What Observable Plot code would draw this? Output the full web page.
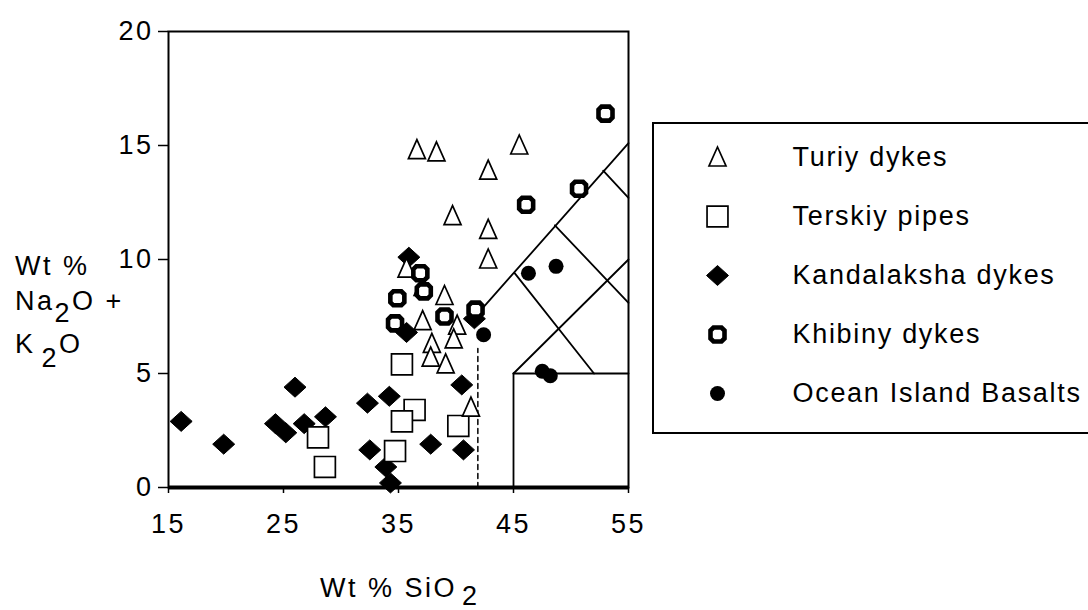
<!DOCTYPE html>
<html><head><meta charset="utf-8">
<script src="https://cdn.jsdelivr.net/npm/d3@7"></script>
<script src="https://cdn.jsdelivr.net/npm/@observablehq/plot@0.6"></script>
<style>
html,body{margin:0;padding:0;background:#fff;overflow:hidden;width:1088px;height:610px;}
#wrap{position:relative;width:1088px;height:610px;font-family:"Liberation Sans",Arial,sans-serif;color:#000;}
#chart{position:absolute;left:0;top:0;}
#legend{position:absolute;left:652px;top:122px;width:460px;height:312px;border:2px solid #000;box-sizing:border-box;background:#fff;}
#legend svg{position:absolute;left:0;top:0;background:transparent !important;}
#labels{position:absolute;left:0;top:0;pointer-events:none;}
</style>
</head><body>
<div id="wrap"><div id="chart"></div><div id="legend"></div><svg id="labels" width="1088" height="610"></svg></div>
<script>
// ---- data (Wt % SiO2, Wt % Na2O + K2O) ----
const seriesNames = ["Turiy dykes", "Terskiy pipes", "Kandalaksha dykes", "Khibiny dykes", "Ocean Island Basalts"];
const turiy = [[36.6,14.8],[38.3,14.7],[45.5,15.0],[42.8,13.9],[39.7,11.9],[42.8,11.3],[42.8,10.0],
  [35.7,9.6],[37.1,8.8],[39.0,8.4],[37.1,7.3],[40.1,7.1],[39.8,6.5],[37.9,6.3],[37.8,5.7],[39.1,5.4],[41.3,3.5]];
const terskiy = [[35.3,5.4],[36.4,3.4],[35.3,2.9],[34.7,1.6],[40.2,2.7],[28.0,2.2],[28.6,0.9]];
const kandalaksha = [[16.1,2.9],[19.8,1.9],[26.0,4.4],[24.3,2.8],[25.2,2.4],[26.8,2.8],[28.65,3.1],[32.3,3.7],
  [34.2,4.0],[32.5,1.65],[33.9,0.9],[34.3,0.2],[37.8,1.9],[40.65,1.65],[40.5,4.5],[35.9,10.1],[35.7,6.8],[41.6,7.4]];
const khibiny = [[53.0,16.4],[50.7,13.1],[46.1,12.4],[41.7,7.8],[34.9,8.3],[34.7,7.2],[36.9,9.4],[37.2,8.6],[39.0,7.5]];
const oib = [[46.3,9.4],[48.7,9.7],[47.5,5.1],[48.2,4.9],[42.4,6.7]];
const xTicks = [15, 25, 35, 45, 55];
const yTicks = [0, 5, 10, 15, 20];
// classification field boundaries (SiO2, alkali)
const boundaries = [
  [[42.2,7.8],[55,15.1]],
  [[45,0],[45,5]],
  [[45,5],[55,5]],
  [[45,5],[55,10]],
  [[45.1,9.4],[52,5]],
  [[48.6,11.5],[55,8.1]],
  [[52.8,13.9],[55,12.7]]
];
const dashedBoundary = [[41.9,0],[41.9,6.1]];

// ---- symbols & styles ----
const triUp = {draw(ctx, size){const k=Math.sqrt(size/Math.PI)/8; ctx.moveTo(0,-10.5*k); ctx.lineTo(8.5*k,8.5*k); ctx.lineTo(-8.5*k,8.5*k); ctx.closePath();}};
const diamond = {draw(ctx, size){const k=Math.sqrt(size/Math.PI)/8; ctx.moveTo(0,-10*k); ctx.lineTo(11*k,0); ctx.lineTo(0,10*k); ctx.lineTo(-11*k,0); ctx.closePath();}};
const octagon = {draw(ctx, size){const k=Math.sqrt(size/Math.PI)/8; const a=7*k, c=3*k;
  ctx.moveTo(-a+c,-a); ctx.lineTo(a-c,-a); ctx.lineTo(a,-a+c); ctx.lineTo(a,a-c); ctx.lineTo(a-c,a);
  ctx.lineTo(-a+c,a); ctx.lineTo(-a,a-c); ctx.lineTo(-a,-a+c); ctx.closePath();}};
const styles = {
  "Turiy dykes": {symbol: triUp, r: 8, fill: "white", stroke: "black", strokeWidth: 1.7},
  "Terskiy pipes": {symbol: "square", r: 11.8, fill: "white", stroke: "black", strokeWidth: 1.7},
  "Kandalaksha dykes": {symbol: diamond, r: 8, fill: "black", stroke: "black", strokeWidth: 1},
  "Khibiny dykes": {symbol: octagon, r: 8, fill: "white", stroke: "black", strokeWidth: 4.6},
  "Ocean Island Basalts": {symbol: "circle", r: 7.5, fill: "black", stroke: "none"}
};
const seriesData = {
  "Turiy dykes": turiy, "Terskiy pipes": terskiy, "Kandalaksha dykes": kandalaksha,
  "Khibiny dykes": khibiny, "Ocean Island Basalts": oib
};
const drawOrder = ["Kandalaksha dykes", "Terskiy pipes", "Turiy dykes", "Khibiny dykes", "Ocean Island Basalts"];
const font = {fontFamily: "'Liberation Sans', Arial, sans-serif", fontSize: "27px", letterSpacing: "2.5px", color: "black", background: "white"};

const chart = Plot.plot({
  width: 1088, height: 610,
  marginLeft: 168, marginRight: 460, marginTop: 31, marginBottom: 123,
  style: font,
  x: {domain: [15, 55]},
  y: {domain: [0, 20]},
  marks: [
    Plot.axisX({ticks: xTicks, tickSize: 6, tickPadding: 20, label: null, strokeWidth: 1.5}),
    Plot.axisY({ticks: yTicks, tickSize: 10, tickPadding: 5, label: null, strokeWidth: 1.5}),
    ...boundaries.map(seg => Plot.line(seg, {x: d => d[0], y: d => d[1], stroke: "black", strokeWidth: 1.8})),
    Plot.line(dashedBoundary, {x: d => d[0], y: d => d[1], stroke: "black", strokeWidth: 1.5, strokeDasharray: "5,4"}),
    Plot.frame({stroke: "black", strokeWidth: 2}),
    Plot.ruleY([0], {stroke: "black", strokeWidth: 4}),
    ...drawOrder.map(n => Plot.dot(seriesData[n], {x: d => d[0], y: d => d[1], ...styles[n]}))
  ]
});
document.getElementById("chart").appendChild(chart);

// legend drawn with Plot (origin at the inner edge of the box: 654, 124)
const legend = Plot.plot({
  width: 434, height: 308,
  marginLeft: 63, marginRight: 296, marginTop: 33, marginBottom: 39,
  style: {...font, letterSpacing: "1.7px", background: "transparent"},
  x: {domain: [0, 1], axis: null},
  y: {type: "point", domain: seriesNames, axis: null, padding: 0},
  marks: [
    ...seriesNames.map(n => Plot.dot([n], {x: () => 0, y: d => d, ...styles[n]})),
    Plot.text(seriesNames, {x: () => 1, y: d => d, text: d => d, textAnchor: "start", fontSize: 27})
  ]
});
document.getElementById("legend").appendChild(legend);

// axis titles (with subscripts) as real text
const lab = d3.select("#labels").style("font-family", "'Liberation Sans', Arial, sans-serif").style("font-size", "27px").style("letter-spacing", "2.5px");
lab.append("text").attr("x", 15).attr("y", 275).text("Wt %");
const l2 = lab.append("text").attr("x", 15).attr("y", 310);
l2.append("tspan").text("Na");
l2.append("tspan").attr("dy", 12).text("2");
l2.append("tspan").attr("dy", -12).text("O +");
const l3 = lab.append("text").attr("x", 15).attr("y", 353);
l3.append("tspan").text("K");
l3.append("tspan").attr("dx", 6).attr("dy", 14).text("2");
l3.append("tspan").attr("dy", -14).text("O");
const xl = lab.append("text").attr("x", 320).attr("y", 597);
xl.append("tspan").text("Wt % SiO");
xl.append("tspan").attr("dx", 5).attr("dy", 8).text("2");
</script>
</body></html>
